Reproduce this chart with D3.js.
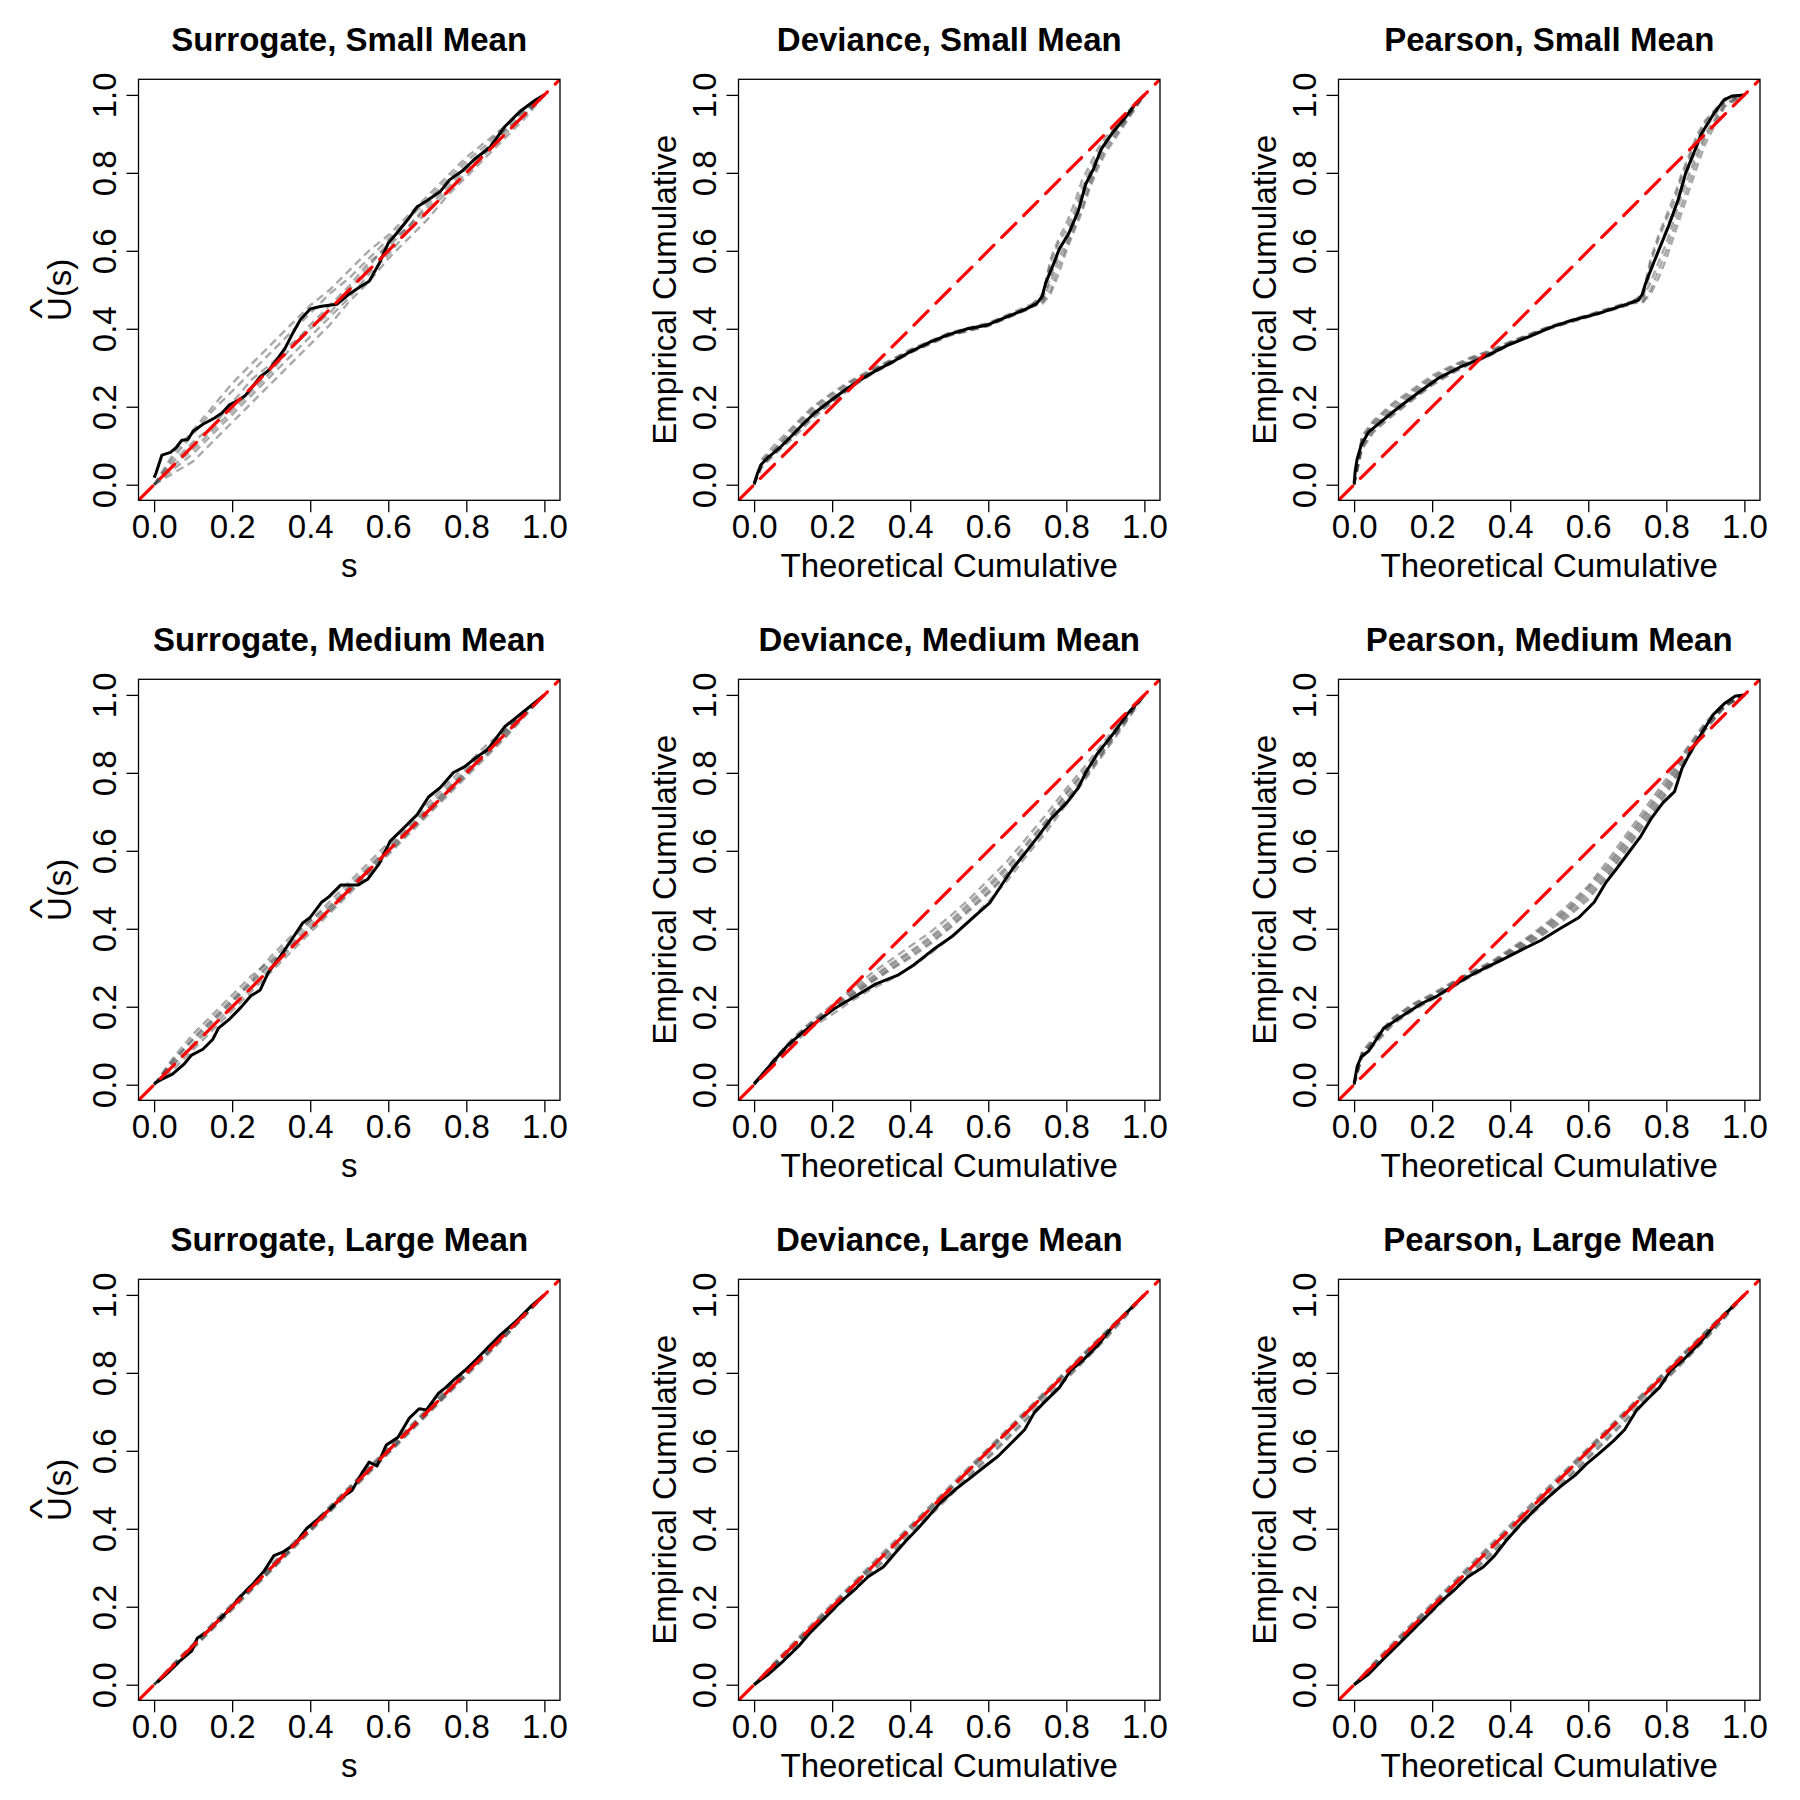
<!DOCTYPE html>
<head>
  <meta charset="utf-8">
  <script src="https://d3js.org/d3.v7.min.js"></script>
  <style>
body { margin:0; background:#fff; }
text { font-family: "Liberation Sans", Arial, Helvetica, sans-serif; fill:#000; }
.title { font-size: 33px; font-weight: bold; text-anchor: middle; }
.lab { font-size: 33px; text-anchor: middle; }
.tick text { font-size: 33px; }
.tick line { stroke:#000; stroke-width:1.3; }
.box { fill:none; stroke:#000; stroke-width:1.3; }
.grey { fill:none; stroke:#333; stroke-opacity:0.42; stroke-width:2.4; stroke-dasharray:8,5; }
.obs { fill:none; stroke:#000; stroke-width:3; stroke-linejoin:round; }
.ref { fill:none; stroke:#ff0000; stroke-width:3.2; stroke-dasharray:20,11; stroke-linecap:round; }
  </style>
</head>

<body>
  <script>
const tickVals = [0, 0.2, 0.4, 0.6, 0.8, 1.0]

// x grids for the grey simulated curves
const grid21 = [0, .05, .1, .15, .2, .25, .3, .35, .4, .45, .5, .55, .6, .65, .7, .75, .8, .85, .9, .95, 1]
const gridKink = [0, .02, .05, .1, .15, .2, .25, .3, .35, .4, .5, .6, .7, .74, .76, .78, .8, .82, .84, .86, .88, .9, .95, 1]
const gridMed = [0, .02, .05, .1, .15, .2, .25, .3, .35, .4, .45, .5, .55, .6, .65, .7, .75, .8, .85, .9, .95, 1]

// observed (black) curves, [x, y]
const surSmallObs = [[0,.018],[.005,.03],[.02,.076],[.042,.083],[.057,.096],[.071,.114],[.086,.116],[.1,.137],[.125,.155],[.155,.171],[.174,.184],[.192,.204],[.218,.218],[.233,.228],[.253,.253],[.272,.277],[.292,.292],[.311,.316],[.336,.351],[.356,.39],[.375,.424],[.4,.451],[.429,.458],[.468,.463],[.498,.488],[.527,.507],[.551,.522],[.576,.566],[.6,.62],[.625,.649],[.649,.679],[.674,.713],[.698,.728],[.733,.752],[.757,.782],[.791,.806],[.821,.835],[.86,.865],[.899,.919],[.938,.958],[.977,.987],[1,1]]
const devSmallObs = [[0,.003],[.008,.027],[.018,.052],[.037,.071],[.067,.096],[.096,.125],[.125,.155],[.155,.184],[.194,.214],[.233,.243],[.272,.269],[.311,.292],[.351,.313],[.4,.341],[.449,.365],[.498,.385],[.547,.4],[.595,.409],[.644,.429],[.693,.449],[.723,.463],[.738,.483],[.747,.517],[.767,.566],[.782,.605],[.806,.644],[.831,.703],[.85,.772],[.87,.811],[.889,.86],[.919,.904],[.948,.938],[.977,.977],[1,1]]
const peaSmallObs = [[0,.003],[.003,.037],[.008,.067],[.018,.101],[.037,.135],[.067,.16],[.096,.184],[.135,.214],[.174,.243],[.214,.272],[.272,.302],[.331,.326],[.39,.356],[.449,.38],[.507,.405],[.566,.424],[.625,.439],[.684,.458],[.728,.473],[.738,.488],[.747,.517],[.762,.556],[.782,.605],[.806,.664],[.831,.733],[.85,.801],[.87,.85],[.889,.899],[.919,.948],[.948,.987],[.968,.997],[1,1]]
const surMedObs = [[0,.003],[.018,.013],[.047,.027],[.076,.052],[.096,.076],[.125,.091],[.15,.116],[.165,.145],[.194,.169],[.223,.199],[.248,.228],[.272,.243],[.292,.287],[.321,.326],[.351,.37],[.38,.414],[.4,.429],[.429,.468],[.449,.483],[.478,.512],[.522,.512],[.547,.527],[.576,.566],[.605,.625],[.635,.654],[.674,.693],[.703,.738],[.733,.762],[.767,.801],[.796,.816],[.826,.84],[.855,.86],[.899,.919],[.948,.958],[1,1]]
const devMedObs = [[0,.003],[.018,.023],[.047,.057],[.086,.101],[.125,.135],[.165,.165],[.204,.194],[.253,.223],[.311,.258],[.37,.282],[.409,.307],[.458,.346],[.507,.38],[.556,.424],[.605,.468],[.644,.527],[.664,.556],[.703,.605],[.733,.644],[.762,.684],[.801,.723],[.831,.762],[.85,.801],[.88,.85],[.919,.899],[.958,.953],[1,1]]
const peaMedObs = [[0,.003],[.008,.047],[.018,.071],[.037,.086],[.057,.116],[.076,.145],[.106,.165],[.135,.184],[.174,.209],[.214,.228],[.253,.253],[.292,.277],[.331,.297],[.38,.321],[.429,.346],[.478,.37],[.527,.4],[.576,.429],[.615,.468],[.644,.517],[.674,.556],[.703,.595],[.733,.635],[.762,.684],[.791,.723],[.821,.752],[.84,.811],[.86,.85],[.889,.899],[.919,.948],[.948,.977],[.977,.997],[1,1]]
const surLargeObs = [[.008,.006],[.037,.032],[.067,.062],[.096,.086],[.111,.12],[.135,.135],[.165,.165],[.194,.194],[.223,.228],[.253,.258],[.282,.292],[.307,.331],[.331,.341],[.36,.36],[.39,.4],[.419,.424],[.449,.449],[.478,.478],[.507,.498],[.532,.542],[.551,.571],[.571,.561],[.595,.615],[.625,.635],[.654,.684],[.679,.708],[.698,.705],[.728,.747],[.747,.762],[.772,.786],[.796,.806],[.826,.835],[.855,.865],[.889,.899],[.928,.933],[.968,.973],[1,1]]
const devLargeObs = [[0,0],[.037,.027],[.076,.062],[.116,.101],[.145,.135],[.184,.174],[.223,.214],[.262,.248],[.292,.277],[.331,.302],[.36,.336],[.39,.37],[.419,.4],[.449,.434],[.478,.468],[.517,.502],[.556,.532],[.586,.556],[.625,.586],[.654,.615],[.693,.654],[.718,.698],[.742,.723],[.782,.762],[.811,.806],[.84,.83],[.88,.87],[.919,.919],[.958,.958],[1,1]]
const peaLargeObs = [[0,0],[.037,.027],[.076,.067],[.116,.106],[.155,.145],[.194,.184],[.223,.214],[.262,.248],[.292,.277],[.331,.302],[.36,.331],[.39,.37],[.429,.414],[.458,.444],[.488,.473],[.527,.507],[.566,.537],[.595,.566],[.625,.591],[.664,.625],[.693,.654],[.723,.703],[.752,.733],[.782,.762],[.811,.806],[.85,.84],[.889,.88],[.928,.928],[.968,.968],[1,1]]

// grey simulated curves, y values on the grids above
const surSmallSim = [
  [0,.07,.13,.19,.24,.29,.34,.39,.44,.49,.53,.58,.63,.68,.73,.78,.83,.87,.92,.96,1],
  [0,.04,.08,.13,.18,.23,.28,.33,.38,.43,.48,.54,.59,.65,.70,.75,.80,.85,.90,.95,1],
  [0,.06,.11,.15,.21,.27,.31,.36,.40,.44,.50,.56,.62,.66,.71,.76,.81,.86,.91,.95,1],
  [0,.03,.06,.11,.16,.21,.26,.31,.36,.41,.47,.52,.58,.63,.68,.74,.79,.84,.89,.94,1],
  [0,.08,.14,.20,.26,.31,.36,.41,.46,.50,.55,.60,.64,.69,.74,.79,.84,.88,.92,.96,1],
  [0,.05,.09,.14,.19,.24,.29,.35,.41,.46,.51,.57,.61,.66,.72,.77,.82,.86,.91,.95,1]
]
const devSmallSim = [
  [0,.06,.09,.145,.195,.232,.265,.293,.318,.345,.388,.413,.455,.47,.50,.56,.61,.66,.71,.77,.82,.86,.93,1],
  [0,.045,.075,.12,.17,.21,.25,.283,.31,.338,.382,.407,.45,.49,.58,.63,.67,.72,.78,.82,.86,.89,.95,1],
  [0,.065,.1,.15,.2,.236,.268,.296,.32,.347,.39,.415,.458,.475,.52,.58,.62,.67,.73,.78,.83,.87,.935,1],
  [0,.05,.078,.125,.175,.213,.252,.285,.311,.339,.383,.408,.449,.485,.57,.62,.655,.70,.76,.805,.845,.88,.945,1],
  [0,.058,.088,.138,.188,.225,.26,.29,.316,.343,.386,.411,.453,.465,.49,.54,.60,.65,.70,.76,.81,.85,.925,1],
  [0,.052,.082,.132,.183,.22,.257,.288,.314,.342,.385,.41,.451,.478,.535,.595,.64,.685,.745,.795,.84,.875,.94,1]
]
const peaSmallSim = [
  [0,.12,.16,.205,.24,.275,.302,.325,.343,.366,.405,.435,.466,.47,.50,.55,.60,.66,.72,.78,.84,.89,.975,1],
  [0,.09,.135,.178,.217,.255,.285,.31,.332,.36,.4,.43,.46,.49,.58,.64,.69,.74,.80,.85,.90,.935,.99,1],
  [0,.125,.165,.21,.245,.28,.305,.327,.345,.367,.406,.436,.467,.478,.52,.57,.62,.68,.745,.80,.855,.90,.98,1],
  [0,.095,.14,.182,.22,.258,.287,.312,.333,.361,.401,.431,.461,.485,.57,.63,.68,.725,.79,.84,.89,.93,.99,1],
  [0,.115,.155,.198,.235,.27,.298,.321,.34,.364,.404,.434,.464,.468,.49,.53,.58,.64,.70,.76,.82,.875,.97,1],
  [0,.1,.15,.192,.23,.265,.294,.318,.338,.363,.403,.433,.463,.482,.545,.60,.655,.705,.765,.82,.87,.915,.985,1]
]
const surMedSim = [
  [0,.07,.13,.18,.23,.28,.32,.37,.42,.46,.51,.56,.61,.66,.71,.76,.81,.86,.91,.955,1],
  [0,.05,.10,.15,.20,.25,.30,.35,.40,.45,.50,.55,.60,.65,.70,.75,.80,.85,.90,.95,1],
  [0,.06,.12,.17,.22,.27,.33,.38,.42,.47,.52,.57,.62,.67,.72,.77,.82,.87,.91,.96,1],
  [0,.04,.09,.14,.19,.24,.29,.34,.39,.44,.49,.54,.59,.64,.69,.74,.79,.84,.89,.945,1],
  [0,.065,.115,.165,.215,.26,.31,.36,.41,.455,.505,.555,.605,.655,.705,.755,.805,.855,.905,.955,1],
  [0,.055,.105,.16,.21,.265,.315,.355,.40,.445,.495,.545,.595,.645,.695,.745,.795,.845,.895,.95,1]
]
const devMedSim = [
  [0,.065,.12,.165,.205,.245,.285,.32,.355,.39,.43,.475,.525,.575,.635,.695,.76,.82,.885,.945,1],
  [0,.055,.11,.155,.19,.228,.262,.295,.325,.36,.40,.445,.49,.54,.60,.66,.73,.79,.86,.93,1],
  [0,.062,.117,.162,.198,.24,.275,.31,.342,.378,.418,.465,.512,.562,.622,.68,.75,.81,.875,.94,1],
  [0,.058,.112,.157,.192,.23,.265,.298,.33,.365,.405,.45,.495,.545,.605,.665,.735,.795,.865,.932,1],
  [0,.055,.105,.148,.18,.215,.245,.27,.30,.335,.375,.42,.47,.525,.59,.65,.72,.785,.855,.925,1],
  [0,.06,.115,.16,.196,.235,.27,.305,.337,.372,.412,.458,.505,.555,.615,.675,.745,.805,.87,.937,1]
]
const peaMedSim = [
  [0,.08,.115,.17,.205,.23,.26,.288,.312,.345,.378,.415,.455,.505,.565,.635,.705,.775,.855,.925,.975,1],
  [0,.07,.10,.155,.19,.218,.248,.278,.303,.332,.362,.395,.432,.475,.535,.605,.675,.745,.83,.91,.97,1],
  [0,.085,.12,.172,.207,.233,.262,.29,.315,.348,.382,.42,.462,.51,.575,.645,.715,.785,.86,.93,.98,1],
  [0,.075,.108,.162,.197,.224,.254,.283,.308,.338,.37,.405,.445,.49,.55,.62,.69,.76,.84,.918,.972,1],
  [0,.072,.105,.158,.193,.22,.25,.28,.306,.335,.366,.40,.438,.482,.542,.612,.682,.752,.835,.912,.97,1],
  [0,.078,.112,.166,.2,.228,.257,.286,.31,.342,.375,.41,.45,.498,.558,.628,.698,.768,.848,.922,.976,1]
]
const surLargeSim = [
  [0,.055,.105,.155,.205,.255,.305,.355,.405,.455,.505,.555,.605,.655,.705,.755,.805,.855,.905,.953,1],
  [0,.045,.095,.145,.195,.245,.295,.345,.395,.445,.495,.545,.595,.645,.695,.745,.795,.845,.895,.948,1],
  [0,.05,.102,.152,.2,.252,.302,.35,.4,.452,.502,.55,.6,.652,.702,.75,.8,.852,.902,.95,1],
  [0,.048,.097,.147,.197,.247,.297,.347,.397,.447,.497,.547,.597,.647,.697,.747,.797,.847,.897,.947,1],
  [0,.053,.103,.158,.208,.258,.308,.358,.408,.458,.508,.558,.608,.658,.708,.758,.808,.858,.907,.955,1],
  [0,.043,.092,.142,.192,.242,.292,.342,.392,.442,.492,.542,.592,.642,.692,.742,.792,.842,.892,.945,1]
]
const devLargeSim = [
  [0,.052,.103,.153,.203,.254,.304,.353,.404,.454,.503,.553,.603,.653,.703,.753,.803,.853,.903,.952,1],
  [0,.046,.095,.143,.192,.24,.29,.338,.388,.437,.487,.537,.586,.636,.686,.737,.787,.838,.889,.944,1],
  [0,.05,.1,.15,.2,.25,.3,.35,.4,.45,.5,.55,.6,.65,.7,.75,.8,.85,.9,.95,1],
  [0,.055,.107,.158,.208,.258,.309,.359,.408,.458,.508,.558,.607,.657,.707,.757,.806,.856,.905,.953,1],
  [0,.044,.092,.14,.188,.236,.285,.333,.382,.432,.482,.532,.581,.631,.681,.732,.783,.834,.886,.942,1],
  [0,.048,.098,.147,.197,.246,.296,.345,.395,.445,.495,.545,.595,.645,.695,.745,.795,.846,.897,.948,1]
]
const peaLargeSim = [
  [0,.053,.104,.155,.205,.255,.305,.355,.405,.455,.505,.555,.604,.654,.704,.754,.804,.854,.904,.953,1],
  [0,.045,.094,.142,.19,.239,.288,.337,.386,.436,.486,.535,.585,.635,.685,.736,.786,.837,.888,.943,1],
  [0,.05,.1,.151,.201,.251,.301,.35,.4,.45,.5,.55,.6,.65,.7,.75,.8,.851,.901,.95,1],
  [0,.056,.108,.159,.209,.259,.31,.36,.41,.46,.51,.559,.608,.658,.708,.758,.807,.857,.906,.954,1],
  [0,.043,.091,.139,.187,.235,.284,.332,.381,.431,.481,.531,.58,.63,.68,.731,.782,.833,.885,.941,1],
  [0,.047,.097,.146,.196,.245,.295,.344,.394,.444,.494,.544,.594,.644,.694,.744,.794,.845,.896,.947,1]
]

const titles = ['Surrogate, Small Mean', 'Deviance, Small Mean', 'Pearson, Small Mean',
  'Surrogate, Medium Mean', 'Deviance, Medium Mean', 'Pearson, Medium Mean',
  'Surrogate, Large Mean', 'Deviance, Large Mean', 'Pearson, Large Mean']

const panels = [
  { obs: surSmallObs, grid: grid21, sim: surSmallSim },
  { obs: devSmallObs, grid: gridKink, sim: devSmallSim },
  { obs: peaSmallObs, grid: gridKink, sim: peaSmallSim },
  { obs: surMedObs, grid: grid21, sim: surMedSim },
  { obs: devMedObs, grid: grid21, sim: devMedSim },
  { obs: peaMedObs, grid: gridMed, sim: peaMedSim },
  { obs: surLargeObs, grid: grid21, sim: surLargeSim },
  { obs: devLargeObs, grid: grid21, sim: devLargeSim },
  { obs: peaLargeObs, grid: grid21, sim: peaLargeSim }
]

const svg = d3.select('body')
  .append('svg')
  .attr('width', 1800)
  .attr('height', 1800)

const x = d3.scaleLinear().domain([-0.04, 1.04]).range([138.5, 560])
const y = d3.scaleLinear().domain([-0.04, 1.04]).range([500.3, 79.3])
const line = d3.line().x(d => x(d[0])).y(d => y(d[1]))
const fmt = d3.format('.1f')

panels.forEach((p, i) => {
  const col = i % 3
  const row = Math.floor(i / 3)
  const surrogate = col === 0
  const g = svg.append('g').attr('transform', `translate(${col * 600},${row * 600})`)

  g.append('clipPath').attr('id', 'clip' + i)
    .append('rect')
    .attr('x', x(-0.04)).attr('y', y(1.04))
    .attr('width', x(1.04) - x(-0.04)).attr('height', y(-0.04) - y(1.04))

  const plot = g.append('g').attr('clip-path', `url(#clip${i})`)

  p.sim.forEach(ys => {
    plot.append('path')
      .attr('class', 'grey')
      .attr('d', line(p.grid.map((gx, k) => [gx, ys[k]])))
  })

  plot.append('path').attr('class', 'obs').attr('d', line(p.obs))

  plot.append('path').attr('class', 'ref').attr('d', line([[-0.04, -0.04], [1.04, 1.04]]))

  g.append('rect').attr('class', 'box')
    .attr('x', x(-0.04)).attr('y', y(1.04))
    .attr('width', x(1.04) - x(-0.04)).attr('height', y(-0.04) - y(1.04))

  // axes
  const xa = g.append('g')
    .attr('transform', `translate(0,${y(-0.04)})`)
    .call(d3.axisBottom(x).tickValues(tickVals).tickFormat(fmt).tickSize(12))
  xa.select('.domain').remove()
  xa.selectAll('text').attr('y', 38).attr('dy', null)

  const ya = g.append('g')
    .attr('transform', `translate(${x(-0.04)},0)`)
    .call(d3.axisLeft(y).tickValues(tickVals).tickFormat(fmt).tickSize(12))
  ya.select('.domain').remove()
  ya.selectAll('text')
    .attr('x', null).attr('dy', null)
    .attr('text-anchor', 'middle')
    .attr('transform', 'translate(-23,0) rotate(-90)')

  const cx = (x(-0.04) + x(1.04)) / 2
  const cy = (y(-0.04) + y(1.04)) / 2

  g.append('text').attr('class', 'title')
    .attr('x', cx).attr('y', 51)
    .text(titles[i])

  g.append('text').attr('class', 'lab')
    .attr('x', cx).attr('y', 577)
    .text(surrogate ? 's' : 'Theoretical Cumulative')

  if (surrogate) {
    const yl = g.append('g').attr('transform', `translate(71,${cy}) rotate(-90)`)
    yl.append('text').attr('class', 'lab').text('U(s)')
    yl.append('text').attr('class', 'lab')
      .attr('y', -18)
      .attr('transform', 'scale(1.3,1)')
      .attr('x', -14.6)
      .text('^')
  } else {
    g.append('text').attr('class', 'lab')
      .attr('transform', `translate(76,${cy}) rotate(-90)`)
      .text('Empirical Cumulative')
  }
})
  </script>
</body>
